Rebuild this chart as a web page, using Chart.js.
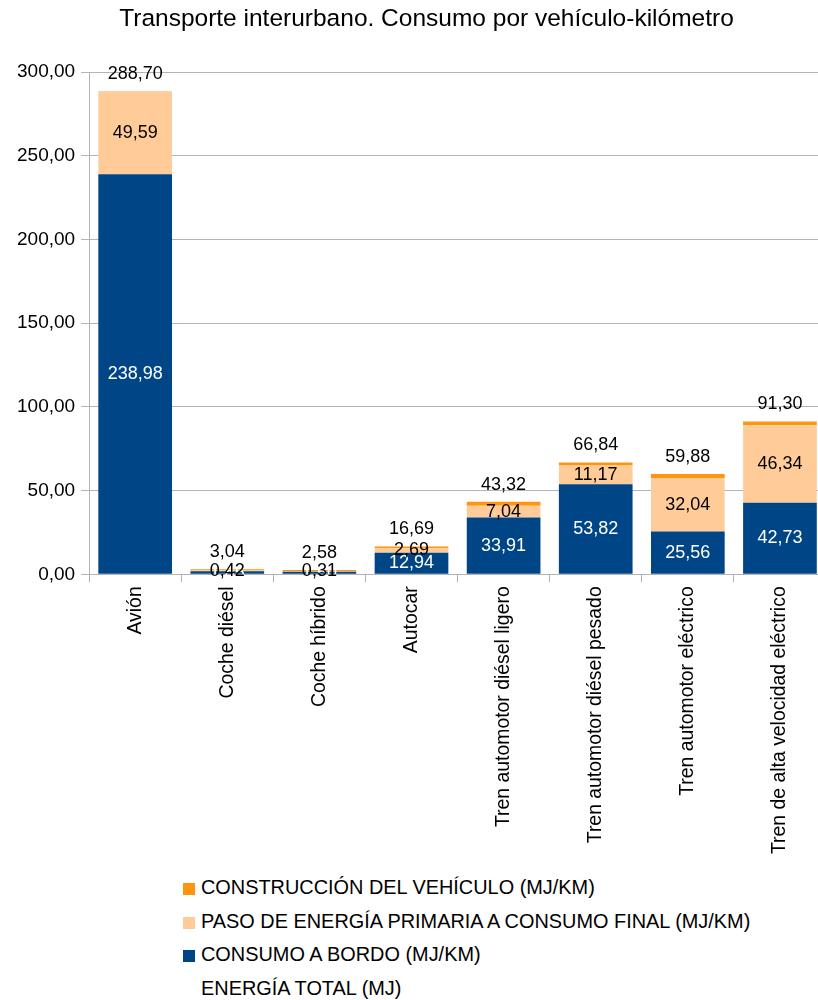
<!DOCTYPE html>
<html>
<head>
<meta charset="utf-8">
<script src="https://cdn.jsdelivr.net/npm/chart.js@4.4.1/dist/chart.umd.min.js"></script>
<style>
  html, body { margin: 0; padding: 0; background: #fff; overflow: hidden; }
  #wrap { position: relative; width: 818px; height: 1000px; overflow: hidden; }
  #box { position: absolute; left: 0; top: 0; width: 852px; height: 870px; }
  #title { position: absolute; left: 0; top: 3px; width: 853px; height: 30px; line-height: 30px; text-align: center; font-family: "Liberation Sans", Arial, sans-serif; font-size: 24.5px; color: #000; white-space: nowrap; }
  #legend { position: absolute; left: 183px; top: 872px; font-family: "Liberation Sans", Arial, sans-serif; font-size: 19.9px; color: #000; }
  #legend div { height: 33.5px; line-height: 30px; white-space: nowrap; }
  #legend span.sw { display: inline-block; width: 12px; height: 12px; margin-right: 6px; vertical-align: -1px; }
  #legend span.nosw { display: inline-block; width: 12px; margin-right: 6px; }
</style>
</head>
<body>
<div id="wrap">
  <div id="box"><canvas id="c"></canvas></div>
  <div id="title">Transporte interurbano. Consumo por vehículo-kilómetro</div>
  <div id="legend"></div>
</div>
<script>
const categories = ['Avión', 'Coche diésel', 'Coche híbrido', 'Autocar', 'Tren automotor diésel ligero', 'Tren automotor diésel pesado', 'Tren automotor eléctrico', 'Tren de alta velocidad eléctrico'];
const consumoABordo = [238.98, 1.85, 1.60, 12.94, 33.91, 53.82, 25.56, 42.73];
const pasoEnergia = [49.59, 0.42, 0.31, 2.69, 7.04, 11.17, 32.04, 46.34];
const construccion = [0.13, 0.77, 0.67, 1.06, 2.37, 1.85, 2.28, 2.23];
const energiaTotal = [288.70, 3.04, 2.58, 16.69, 43.32, 66.84, 59.88, 91.30];
const yTicks = [0, 50, 100, 150, 200, 250, 300];

const seriesNames = ['CONSTRUCCIÓN DEL VEHÍCULO (MJ/KM)', 'PASO DE ENERGÍA PRIMARIA A CONSUMO FINAL (MJ/KM)', 'CONSUMO A BORDO (MJ/KM)', 'ENERGÍA TOTAL (MJ)'];
const colors = { blue: '#004586', peach: '#ffcc99', orange: '#ff950e' };

const fmt = v => v.toFixed(2).replace('.', ',');
const FONT = '"Liberation Sans", Arial, sans-serif';

const labelPlugin = {
  id: 'valueLabels',
  afterDatasetsDraw(chart) {
    const ctx = chart.ctx;
    ctx.save();
    ctx.font = '18px ' + FONT;
    ctx.textAlign = 'center';
    ctx.textBaseline = 'middle';
    chart.data.datasets.forEach((ds, di) => {
      const meta = chart.getDatasetMeta(di);
      if (!ds.showLabels) return;
      meta.data.forEach((el, i) => {
        const v = ds.data[i];
        const y = ds.labelMode === 'center' ? (el.y + el.base) / 2 : el.y - 17;
        ctx.fillStyle = ds.labelColor;
        ctx.fillText(fmt(v), el.x, y);
      });
    });
    ctx.restore();
  }
};

const chart = new Chart(document.getElementById('c'), {
  type: 'bar',
  data: {
    labels: categories,
    datasets: [
      { label: seriesNames[2], data: consumoABordo, backgroundColor: colors.blue, stack: 's', showLabels: true, labelMode: 'center', labelColor: '#ffffff' },
      { label: seriesNames[1], data: pasoEnergia, backgroundColor: colors.peach, stack: 's', showLabels: true, labelMode: 'center', labelColor: '#000000' },
      { label: seriesNames[0], data: construccion, backgroundColor: colors.orange, stack: 's', showLabels: false },
      { type: 'line', label: seriesNames[3], data: energiaTotal, stack: 'total', showLine: false, pointRadius: 0, pointHoverRadius: 0, borderColor: 'rgba(0,0,0,0)', backgroundColor: 'rgba(0,0,0,0)', showLabels: true, labelMode: 'top', labelColor: '#000000' }
    ]
  },
  options: {
    responsive: true,
    maintainAspectRatio: false,
    animation: false,
    events: [],
    layout: { padding: { left: 11, right: 26, top: 72, bottom: 12 } },
    datasets: { bar: { barPercentage: 0.8, categoryPercentage: 1.0 } },
    plugins: {
      legend: { display: false },
      tooltip: { enabled: false },
      title: { display: false }
    },
    scales: {
      x: {
        stacked: true,
        grid: { display: true, drawOnChartArea: false, drawTicks: true, tickLength: 8, color: '#b3b3b3', offset: true },
        border: { display: true, color: '#b3b3b3' },
        ticks: { color: '#000', font: { family: FONT, size: 19.4 }, minRotation: 90, maxRotation: 90, autoSkip: false, padding: 4 }
      },
      y: {
        stacked: true,
        min: 0,
        max: 300,
        afterBuildTicks: axis => { axis.ticks = yTicks.map(v => ({ value: v })); },
        grid: { color: '#b3b3b3', tickLength: 8, drawTicks: true },
        border: { display: true, color: '#b3b3b3' },
        ticks: { color: '#000', font: { family: FONT, size: 19 }, padding: 6, callback: v => fmt(v) }
      }
    }
  },
  plugins: [labelPlugin]
});

const legend = document.getElementById('legend');
const legendColors = [colors.orange, colors.peach, colors.blue, null];
seriesNames.forEach((name, i) => {
  const row = document.createElement('div');
  const sw = document.createElement('span');
  if (legendColors[i]) { sw.className = 'sw'; sw.style.background = legendColors[i]; }
  else { sw.className = 'nosw'; }
  row.appendChild(sw);
  row.appendChild(document.createTextNode(name));
  legend.appendChild(row);
});
</script>
</body>
</html>
